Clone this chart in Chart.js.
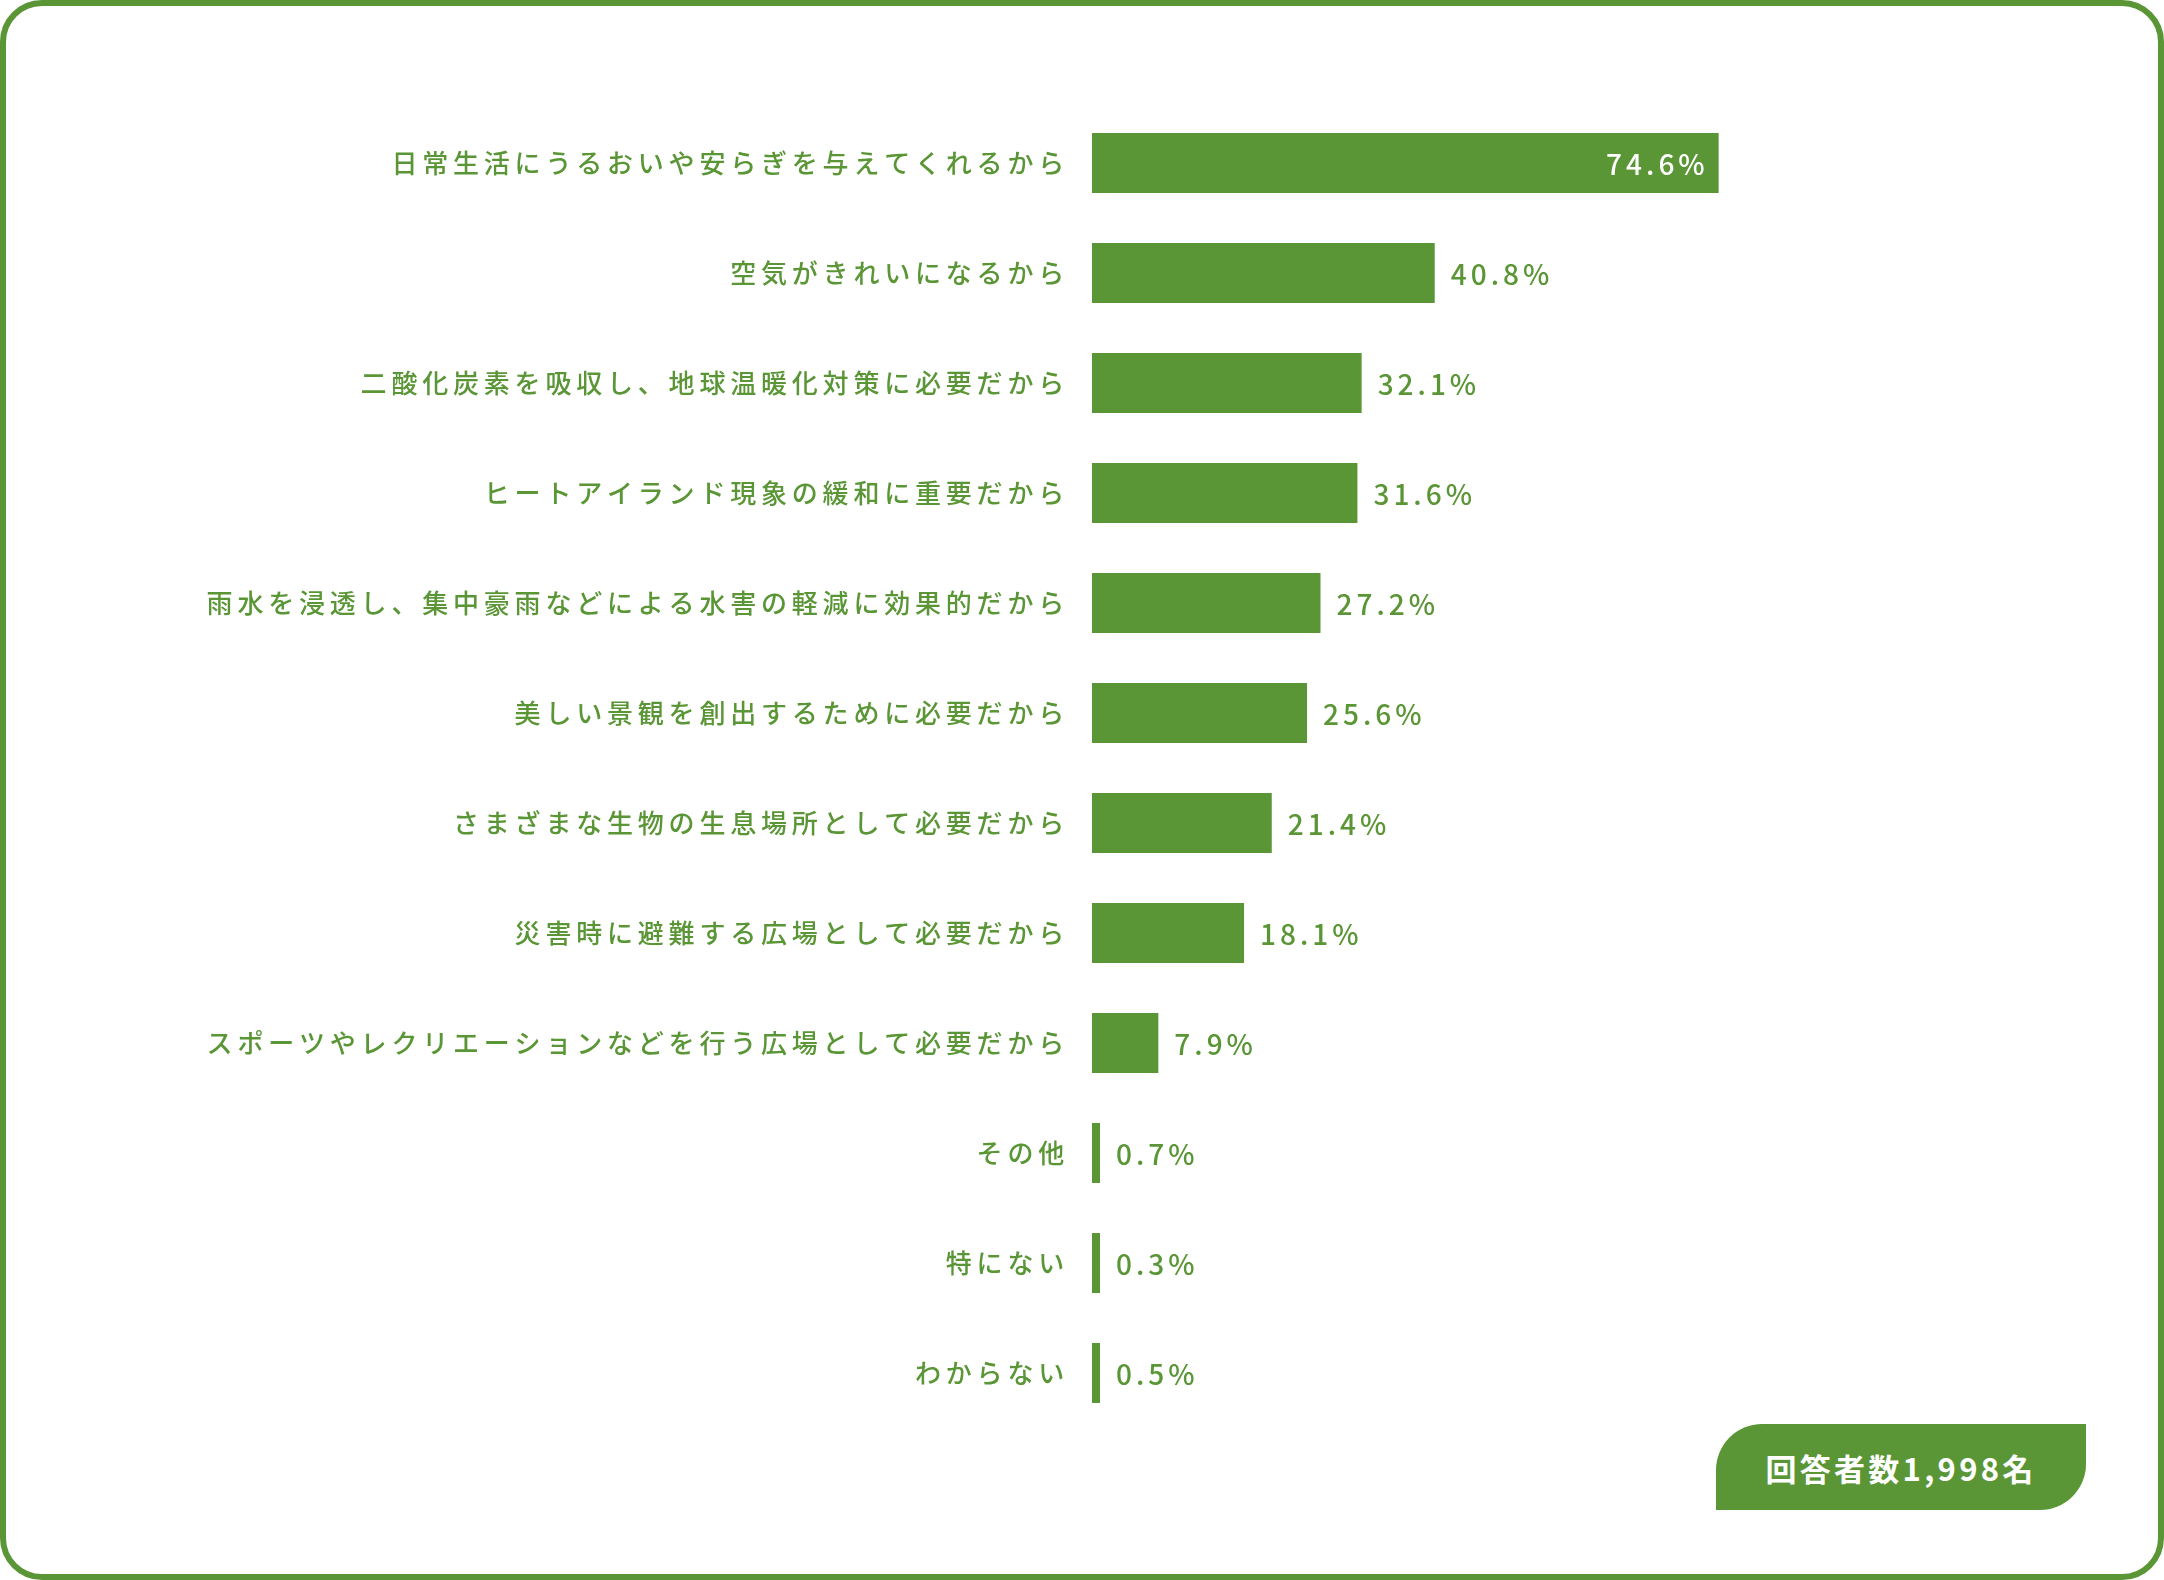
<!DOCTYPE html>
<html lang="ja">
<head>
<meta charset="utf-8">
<script src="https://cdn.jsdelivr.net/npm/chart.js@4.4.1/dist/chart.umd.min.js"></script>
<style>
  html, body { margin: 0; padding: 0; background: #ffffff; }
  #wrap { position: relative; width: 2164px; height: 1580px; overflow: hidden; }
  #frame { position: absolute; left: 0; top: 0; width: 2164px; height: 1580px; box-sizing: border-box;
           border: 6px solid #5a9636; border-radius: 42px; pointer-events: none; }
  #c { position: absolute; left: 0; top: 0; }
  #badge { position: absolute; left: 1716px; top: 1424px; width: 370px; height: 86px;
           background: #5a9636; border-radius: 46px 0 46px 0; color: #ffffff;
           font-family: "Noto Sans CJK JP", "Noto Sans", sans-serif; font-weight: 700; font-size: 31px;
           letter-spacing: 3.3px; display: flex; align-items: center; justify-content: center; }
</style>
</head>
<body>
<div id="wrap">
  <canvas id="c" width="2164" height="1580"></canvas>
  <div id="frame"></div>
  <div id="badge">回答者数1,998名</div>
</div>
<script>
const categories = [
  "日常生活にうるおいや安らぎを与えてくれるから",
  "空気がきれいになるから",
  "二酸化炭素を吸収し、地球温暖化対策に必要だから",
  "ヒートアイランド現象の緩和に重要だから",
  "雨水を浸透し、集中豪雨などによる水害の軽減に効果的だから",
  "美しい景観を創出するために必要だから",
  "さまざまな生物の生息場所として必要だから",
  "災害時に避難する広場として必要だから",
  "スポーツやレクリエーションなどを行う広場として必要だから",
  "その他",
  "特にない",
  "わからない"
];
const percentValues = [74.6, 40.8, 32.1, 31.6, 27.2, 25.6, 21.4, 18.1, 7.9, 0.7, 0.3, 0.5];
const axisMax = 100;

const GREEN = '#5a9636';
const FONT = '"Noto Sans CJK JP", "Noto Sans", sans-serif';

const spacingPlugin = {
  id: 'spacing',
  beforeLayout(chart) { chart.ctx.letterSpacing = '4.8px'; },
  beforeDraw(chart) { chart.ctx.letterSpacing = '4.8px'; }
};

const valueLabelPlugin = {
  id: 'valueLabels',
  afterDatasetsDraw(chart) {
    const ctx = chart.ctx;
    const meta = chart.getDatasetMeta(0);
    ctx.save();
    ctx.letterSpacing = '4px';
    ctx.font = '500 28px ' + FONT;
    ctx.textBaseline = 'middle';
    meta.data.forEach((bar, i) => {
      const v = chart.data.datasets[0].data[i];
      const txt = v.toFixed(1) + '%';
      if (v > 50) {
        ctx.fillStyle = '#ffffff';
        ctx.textAlign = 'right';
        ctx.fillText(txt, bar.x - 10, bar.y + 1);
      } else {
        ctx.fillStyle = GREEN;
        ctx.textAlign = 'left';
        ctx.fillText(txt, bar.x + 16, bar.y + 1);
      }
    });
    ctx.restore();
  }
};

new Chart(document.getElementById('c'), {
  type: 'bar',
  data: {
    labels: categories,
    datasets: [{
      data: percentValues,
      backgroundColor: GREEN,
      borderWidth: 0,
      categoryPercentage: 1.0,
      barPercentage: 0.545,
      minBarLength: 8
    }]
  },
  options: {
    indexAxis: 'y',
    responsive: false,
    animation: false,
    layout: { padding: { top: 108, bottom: 152, left: 0, right: 232 } },
    plugins: { legend: { display: false }, tooltip: { enabled: false }, title: { display: false } },
    scales: {
      x: { display: false, min: 0, max: axisMax },
      y: {
        grid: { display: false, drawTicks: false },
        border: { display: false },
        ticks: { color: GREEN, padding: 23, font: { family: FONT, size: 26, weight: '500' } },
        afterFit(scale) { scale.width = 1092; }
      }
    }
  },
  plugins: [spacingPlugin, valueLabelPlugin]
});
</script>
</body>
</html>
